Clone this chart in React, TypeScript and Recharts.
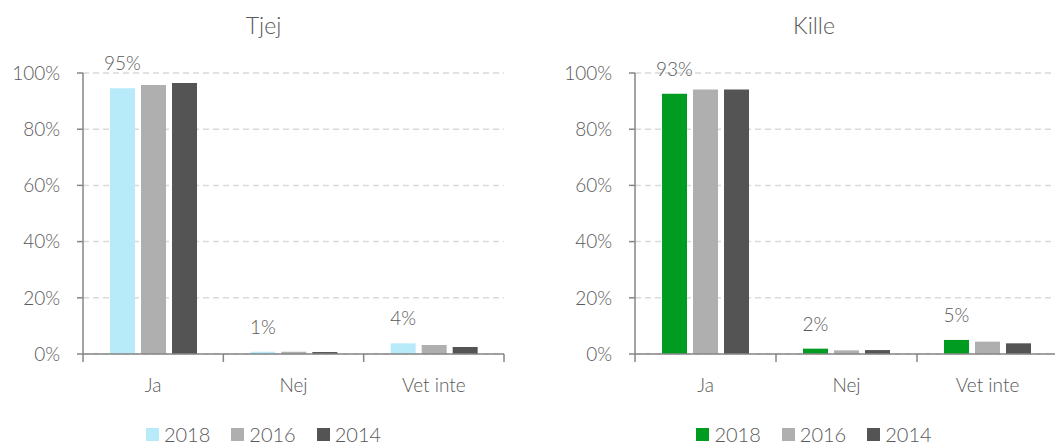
import React from 'react';
import { BarChart, Bar, XAxis, YAxis, CartesianGrid, LabelList } from 'recharts';

const categories = ['Ja', 'Nej', 'Vet inte'];
const years = ['2018', '2016', '2014'];
const yTicks = [0, 20, 40, 60, 80, 100];

// Tjej (girls)
const tjej2018 = [94.6, 0.8, 3.8];
const tjej2016 = [95.7, 0.8, 3.2];
const tjej2014 = [96.4, 0.7, 2.5];

// Kille (boys)
const kille2018 = [92.6, 1.9, 5.0];
const kille2016 = [94.1, 1.3, 4.4];
const kille2014 = [94.1, 1.4, 3.8];

const TEXT = '#595959';
const AXIS = '#868686';
const GREY = '#afafaf';
const DARK = '#545454';
const FONT = 'Lato, "Open Sans", sans-serif';
const WEIGHT = 300;

const buildRows = (a: number[], b: number[], c: number[]) =>
  categories.map((name, i) => ({ name, y2018: a[i], y2016: b[i], y2014: c[i] }));

const CategoryTick = (props: any) => {
  const { x, y, payload, index } = props;
  const off = payload && payload.offset ? payload.offset : 70;
  return (
    <g>
      <line x1={x - off} x2={x - off} y1={y} y2={y + 8} stroke={AXIS} strokeWidth={1.5} />
      {index === categories.length - 1 && (
        <line x1={x + off} x2={x + off} y1={y} y2={y + 8} stroke={AXIS} strokeWidth={1.5} />
      )}
      <text
        x={x}
        y={y + 38}
        textAnchor="middle"
        fill={TEXT}
        fontSize={19}
        fontFamily={FONT}
        fontWeight={WEIGHT}
      >
        {payload.value}
      </text>
    </g>
  );
};

type PanelProps = {
  title: string;
  color: string;
  rows: any[];
  left: number;
  width: number;
  yWidth: number;
  right: number;
};

const Panel = ({ title, color, rows, left, width, yWidth, right }: PanelProps) => {
  const colors = [color, GREY, DARK];
  return (
    <div style={{ position: 'absolute', left, top: 0, width, height: 445 }}>
      <div
        style={{
          position: 'absolute',
          left: 0,
          top: 14,
          width,
          textAlign: 'center',
          fontSize: 23,
          lineHeight: '23px',
          color: TEXT,
          fontFamily: FONT,
          fontWeight: WEIGHT,
        }}
      >
        {title}
      </div>
      <BarChart
        width={width}
        height={445}
        data={rows}
        margin={{ top: 73, right, left: 0, bottom: 51 }}
        barSize={25}
        barGap={6}
      >
        <CartesianGrid vertical={false} stroke="#d9d9d9" strokeDasharray="6 4" strokeWidth={1.5} />
        <XAxis
          dataKey="name"
          height={40}
          axisLine={{ stroke: AXIS, strokeWidth: 1.5 }}
          tickLine={false}
          tickSize={0}
          tickMargin={0}
          tick={<CategoryTick />}
          interval={0}
        />
        <YAxis
          type="number"
          domain={[0, 100]}
          ticks={yTicks}
          width={yWidth}
          tickFormatter={(v: number) => `${v}%`}
          axisLine={{ stroke: AXIS, strokeWidth: 1.5 }}
          tickLine={{ stroke: AXIS, strokeWidth: 1.5 }}
          tickSize={6}
          tickMargin={17}
          tick={{ fill: TEXT, fontSize: 19, fontFamily: FONT, fontWeight: WEIGHT }}
        />
        {years.map((yr, i) => (
          <Bar key={yr} dataKey={`y${yr}`} fill={colors[i]} isAnimationActive={false}>
            {i === 0 && (
              <LabelList
                dataKey={`y${yr}`}
                position="top"
                offset={18}
                formatter={(v: any) => `${Math.round(Number(v))}%`}
                fill={TEXT}
                fontSize={19}
                fontFamily={FONT}
                fontWeight={WEIGHT}
              />
            )}
          </Bar>
        ))}
      </BarChart>
      <div
        style={{
          position: 'absolute',
          left: 0,
          top: 424,
          width,
          display: 'flex',
          justifyContent: 'center',
          fontFamily: FONT,
          fontWeight: WEIGHT,
          fontSize: 20,
          lineHeight: '20px',
          color: TEXT,
        }}
      >
        {years.map((yr, i) => (
          <div key={yr} style={{ display: 'flex', alignItems: 'center', marginRight: i < 2 ? 21 : 0 }}>
            <span
              style={{ width: 13, height: 13, background: colors[i], marginRight: 5, display: 'inline-block' }}
            />
            <span>{yr}</span>
          </div>
        ))}
      </div>
    </div>
  );
};

export default function App() {
  return (
    <div
      style={{
        position: 'absolute',
        left: 0,
        top: 0,
        width: 1055,
        height: 445,
        overflow: 'hidden',
        background: '#fff',
      }}
    >
      <Panel
        title="Tjej"
        color="#b7ebf9"
        rows={buildRows(tjej2018, tjej2016, tjej2014)}
        left={0}
        width={527}
        yWidth={83}
        right={23}
      />
      <Panel
        title="Kille"
        color="#009c21"
        rows={buildRows(kille2018, kille2016, kille2014)}
        left={527}
        width={574}
        yWidth={108}
        right={43}
      />
    </div>
  );
}
